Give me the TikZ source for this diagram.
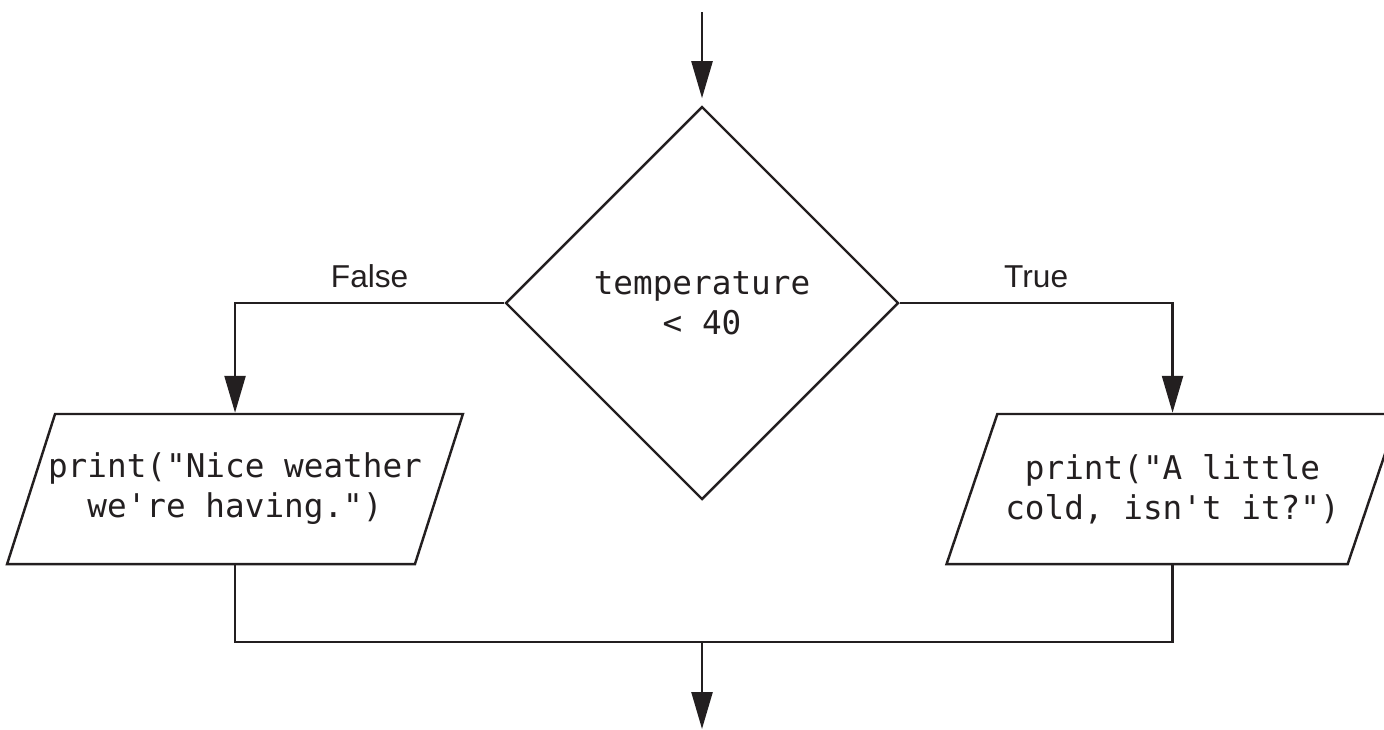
\documentclass[tikz,border=0pt]{standalone}
\usepackage{fontspec}
\setmonofont{DejaVu Sans Mono}
\setsansfont{Liberation Sans}
\usepackage{xcolor}
\definecolor{ink}{HTML}{231F20}
\usetikzlibrary{arrows.meta,positioning,shapes.geometric}
\newcommand{\codefont}{\fontsize{9.3}{11.4}\selectfont\ttfamily}
\newcommand{\lblfont}{\fontsize{9}{11}\selectfont\sffamily}
\tikzset{
  >={Triangle[length=3.7mm,width=2.1mm]},
  decision/.style={draw=ink,shape=diamond,aspect=1,minimum width=3.93cm,
                   minimum height=3.93cm,inner sep=0pt,font=\codefont,
                   align=center,text=ink,line width=0.7pt},
  iobox/.style   ={draw=ink,trapezium,trapezium left angle=56.31,
                   trapezium right angle=123.69,trapezium stretches=true,
                   minimum width=4.52cm,minimum height=1.5cm,
                   inner xsep=-0.07cm,inner ysep=0pt,
                   font=\codefont,align=center,text=ink,line width=0.7pt},
  lbl/.style     ={font=\lblfont,text=ink,inner sep=0pt},
  flow/.style    ={->,draw=ink,line width=0.7pt},
  wire/.style    ={draw=ink,line width=0.7pt},
}

\begin{document}
\begin{tikzpicture}[x=1cm,y=1cm]
\useasboundingbox (0,0) rectangle (13.84,7.29);
% ---- decision
\coordinate (in) at (7.02,7.17);
\node[decision] (dia) at (7.02,4.26) {temperature\\< 40};
\draw[flow,shorten >=2pt] (in) -- (dia);

% ---- the two print boxes
\node[iobox] (outl) at (2.35,2.40) {print("Nice weather\\we're having.")};
\node[iobox] (outr) at (11.725,2.40) {print("A little\\cold, isn't it?")};
\draw[flow] (dia.west) -| node[lbl,above=4pt,pos=0.25] {False} (outl.north);
\draw[flow] (dia.east) -| node[lbl,above=4pt,pos=0.25] {True} (outr.north);

% ---- merge below
\coordinate (join) at (7.02,0.87);
\coordinate (out) at (7.02,0);
\draw[wire] (outl.south) |- (join) -| (outr.south);
\draw[flow] (join) -- (out);
\end{tikzpicture}
\end{document}
